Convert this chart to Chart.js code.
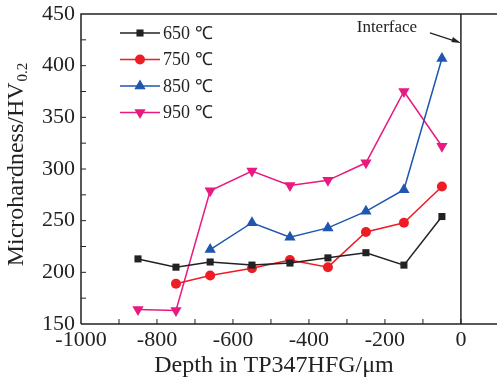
<!DOCTYPE html>
<html>
<head>
<meta charset="utf-8">
<script src="https://cdn.jsdelivr.net/npm/chart.js@4.4.0/dist/chart.umd.min.js"></script>
<style>
  html, body { margin: 0; padding: 0; background: #fff; }
  #c { display: block; }
</style>
</head>
<body>
<canvas id="c" width="497" height="381"></canvas>
<script>
const depths650 = [-850, -750, -660, -550, -450, -350, -250, -150, -50];
const hv650 = [213, 205, 210, 207, 209, 214, 219, 207, 254];

const depths750 = [-750, -660, -550, -450, -350, -250, -150, -50];
const hv750 = [189, 197, 204, 212, 205, 239, 248, 283];

const depths850 = [-660, -550, -450, -350, -250, -150, -50];
const hv850 = [222, 248, 234, 243, 259, 280, 407];

const depths950 = [-850, -750, -660, -550, -450, -350, -250, -150, -50];
const hv950 = [164, 163, 279, 298, 284, 289, 306, 375, 322];

const seriesLabels = ["650 \u2103", "750 \u2103", "850 \u2103", "950 \u2103"];
const xTickLabels = [-1000, -800, -600, -400, -200, 0];
const yTickLabels = [150, 200, 250, 300, 350, 400, 450];

const interfaceX = 0;
const interfaceArrowY = 422;

const FONT = "'Liberation Serif', 'Times New Roman', serif";
const INK = "#222";

function pts(xs, ys) {
  return xs.map((x, i) => ({ x, y: ys[i] }));
}

function series(label, data, color, style, radius) {
  return {
    label,
    data,
    borderColor: color,
    backgroundColor: color,
    borderWidth: 1.5,
    pointStyle: style,
    pointRadius: radius,
    pointHoverRadius: radius,
    pointBorderWidth: 0,
    tension: 0
  };
}

// frame, inward ticks, interface line, legend, axis titles
const decor = {
  id: "decor",
  afterDraw(chart) {
    const ctx = chart.ctx;
    const { left, top, bottom } = chart.chartArea;
    const xs = chart.scales.x;
    const ys = chart.scales.y;

    ctx.save();
    ctx.strokeStyle = INK;
    ctx.lineWidth = 1.5;
    ctx.beginPath();
    ctx.moveTo(left, bottom);
    ctx.lineTo(left, top);
    ctx.lineTo(chart.width, top);
    ctx.moveTo(left, bottom);
    ctx.lineTo(chart.width, bottom);
    ctx.stroke();

    // inward ticks
    ctx.lineWidth = 1;
    ctx.beginPath();
    for (let v = -900; v <= 0; v += 100) {
      const px = xs.getPixelForValue(v);
      ctx.moveTo(px, bottom);
      ctx.lineTo(px, bottom - 5);
    }
    for (let v = 175; v < 450; v += 25) {
      const py = ys.getPixelForValue(v);
      ctx.moveTo(left, py);
      ctx.lineTo(left + 5, py);
    }
    ctx.stroke();

    // interface line
    const ix = xs.getPixelForValue(interfaceX);
    ctx.lineWidth = 1.5;
    ctx.beginPath();
    ctx.moveTo(ix, top);
    ctx.lineTo(ix, bottom);
    ctx.stroke();

    // arrow + label
    const ay = ys.getPixelForValue(interfaceArrowY);
    ctx.lineWidth = 1.2;
    ctx.beginPath();
    ctx.moveTo(ix - 31, ay - 10);
    ctx.lineTo(ix - 5, ay - 1.5);
    ctx.stroke();
    ctx.fillStyle = INK;
    ctx.beginPath();
    ctx.moveTo(ix, ay);
    ctx.lineTo(ix - 8, ay - 6);
    ctx.lineTo(ix - 9.5, ay - 1);
    ctx.closePath();
    ctx.fill();
    ctx.font = "17px " + FONT;
    ctx.textAlign = "center";
    ctx.textBaseline = "middle";
    ctx.fillText("Interface", ix - 74, ay - 15);

    // legend
    ctx.font = "18px " + FONT;
    ctx.textAlign = "left";
    chart.data.datasets.forEach((ds, i) => {
      const y = 33 + i * 26.5;
      ctx.strokeStyle = ds.borderColor;
      ctx.fillStyle = ds.backgroundColor;
      ctx.lineWidth = 1.5;
      ctx.beginPath();
      ctx.moveTo(120, y);
      ctx.lineTo(160, y);
      ctx.stroke();
      Chart.helpers.drawPoint(ctx, {
        pointStyle: ds.pointStyle,
        radius: ds.pointRadius,
        borderWidth: 0,
        rotation: ds.pointRotation || 0
      }, 140, y);
      ctx.fillStyle = INK;
      ctx.fillText(ds.label, 163, y + 1);
    });

    // x title
    ctx.font = "24px " + FONT;
    ctx.textAlign = "center";
    ctx.textBaseline = "alphabetic";
    ctx.fillText("Depth in TP347HFG/\u03bcm", 274, 372);

    // y title with subscript
    ctx.save();
    ctx.translate(23, 165);
    ctx.rotate(-Math.PI / 2);
    ctx.fillStyle = INK;
    ctx.textBaseline = "alphabetic";
    const main = "Microhardness/HV";
    ctx.font = "24px " + FONT;
    const w1 = ctx.measureText(main).width;
    ctx.font = "15px " + FONT;
    const w2 = ctx.measureText("0.2").width;
    const start = -(w1 + w2) / 2;
    ctx.font = "24px " + FONT;
    ctx.textAlign = "left";
    ctx.fillText(main, start, 0);
    ctx.font = "15px " + FONT;
    ctx.fillText("0.2", start + w1 + 1, 4);
    ctx.restore();

    ctx.restore();
  }
};

const sets = [
  series(seriesLabels[0], pts(depths650, hv650), "#222222", "rect", 5),
  series(seriesLabels[1], pts(depths750, hv750), "#ee1c24", "circle", 5),
  series(seriesLabels[2], pts(depths850, hv850), "#1e56b0", "triangle", 6.5),
  series(seriesLabels[3], pts(depths950, hv950), "#e8197f", "triangle", 6.5)
];
sets[3].pointRotation = 180;

new Chart(document.getElementById("c"), {
  type: "line",
  data: { datasets: sets },
  options: {
    responsive: false,
    animation: false,
    layout: { autoPadding: false, padding: { top: 14, right: 0, left: 0, bottom: 0 } },
    plugins: {
      legend: { display: false },
      tooltip: { enabled: false }
    },
    scales: {
      x: {
        type: "linear",
        min: -1000,
        max: 95,
        afterBuildTicks(scale) {
          scale.ticks = xTickLabels.map(v => ({ value: v }));
        },
        afterFit(scale) {
          scale.height = 57;
        },
        grid: { display: false, drawTicks: false },
        border: { display: false },
        ticks: {
          color: INK,
          padding: 3,
          maxRotation: 0,
          font: { family: FONT, size: 22 },
          callback: v => String(v)
        }
      },
      y: {
        min: 150,
        max: 450,
        afterBuildTicks(scale) {
          scale.ticks = yTickLabels.map(v => ({ value: v }));
        },
        afterFit(scale) {
          scale.width = 81;
          scale.paddingTop = 0;
          scale.paddingBottom = 0;
        },
        grid: { display: false, drawTicks: false },
        border: { display: false },
        ticks: {
          color: INK,
          padding: 6,
          font: { family: FONT, size: 22 }
        }
      }
    }
  },
  plugins: [decor]
});
</script>
</body>
</html>
